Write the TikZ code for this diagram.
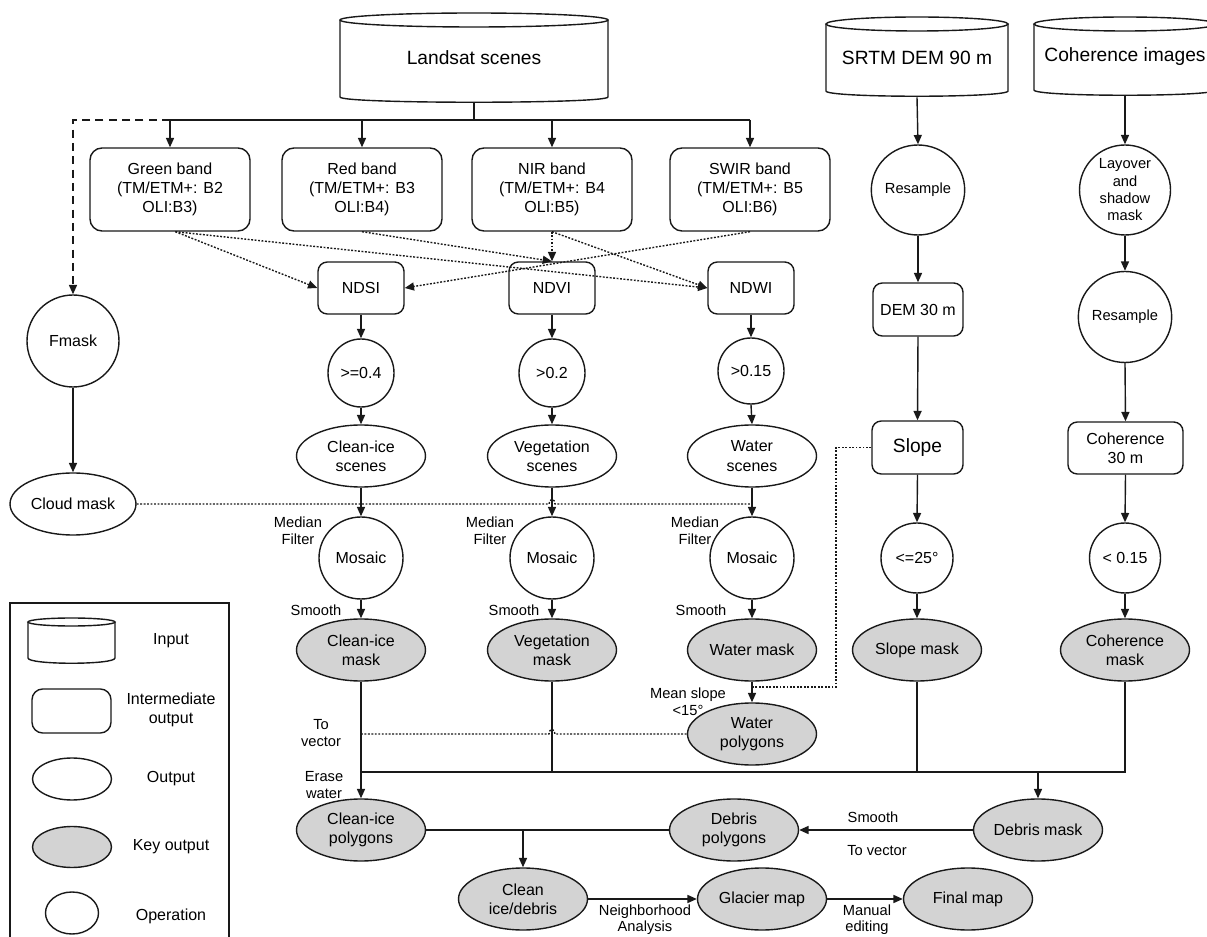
\documentclass[tikz,border=0pt]{standalone}
\usepackage{fontspec}
\setmainfont{Liberation Sans}
\usetikzlibrary{arrows.meta,shapes.geometric,calc}
\definecolor{keygray}{RGB}{211,211,211}
\def\pxu{0.75pt}
\newcommand\drawcyl[5]{%
  \pgfmathsetmacro\cxm{(#1+#2)/2}%
  \pgfmathsetmacro\crx{(#2-#1)/2}%
  \pgfmathsetmacro\cyt{#3+#5}%
  \draw[ln,fill=white] (#1,\cyt) -- (#1,#4-5) .. controls (#1,#4+2) and (#2,#4+2) .. (#2,#4-5) -- (#2,\cyt);
  \draw[ln] (\cxm,\cyt) ellipse [x radius=\crx*\pxu, y radius=#5*\pxu];}
\begin{document}
\begin{tikzpicture}[x=0.75pt,y=-0.75pt,
  every node/.style={font=\fontsize{12}{14.5}\selectfont, align=center, inner sep=0pt},
  ln/.style={line width=1.05pt, draw=black!90},
  arr/.style={ln, -{Triangle[length=7pt,width=6pt]}},
  dotarr/.style={arr, dash pattern=on 1.4pt off 1.2pt},
  dotln/.style={ln, dash pattern=on 1.4pt off 1.2pt},
  dasharr/.style={arr, dash pattern=on 6pt off 4pt},
  bandbox/.style={ln, rectangle, rounded corners=9pt, minimum width=160*\pxu, minimum height=83*\pxu},
  idxbox/.style={ln, rectangle, rounded corners=7pt, minimum width=86*\pxu, minimum height=52*\pxu},
  oval/.style={ln, ellipse, minimum width=129*\pxu, minimum height=62*\pxu},
  keyoval/.style={oval, fill=keygray},
  op/.style={ln, ellipse},
  lbl/.style={font=\fontsize{11}{13}\selectfont},
  cyltext/.style={font=\fontsize{14.4}{17}\selectfont, minimum height=78*\pxu},
]
\useasboundingbox (0,0) rectangle (1207,937);

% ---- inputs (cylinders)
\drawcyl{340}{608}{13}{102}{7}
\drawcyl{826}{1008}{17}{96}{7}
\drawcyl{1034}{1216}{17}{95}{7}
\node[cyltext, minimum width=268*\pxu, minimum height=89*\pxu] (landsat) at (474,58) {Landsat scenes};
\node[cyltext, minimum width=182*\pxu] (srtm) at (917,58) {SRTM DEM 90 m};
\node[cyltext, minimum width=182*\pxu] (cohimg) at (1125,57) {Coherence images};

% ---- bands
\node[bandbox] (green) at (170,189.5) {Green band\\(TM/ETM+: B2\\OLI:B3)};
\node[bandbox] (red) at (362,189.5) {Red band\\(TM/ETM+: B3\\OLI:B4)};
\node[bandbox] (nir) at (552,189.5) {NIR band\\(TM/ETM+: B4\\OLI:B5)};
\node[bandbox] (swir) at (750,189.5) {SWIR band\\(TM/ETM+: B5\\OLI:B6)};

% ---- indices
\node[idxbox] (ndsi) at (361,288) {NDSI};
\node[idxbox] (ndvi) at (552,288) {NDVI};
\node[idxbox] (ndwi) at (751,288) {NDWI};

% ---- thresholds
\node[op, minimum width=66*\pxu, minimum height=68*\pxu] (t1) at (361,373) {>=0.4};
\node[op, minimum width=66*\pxu, minimum height=68*\pxu] (t2) at (552,373) {>0.2};
\node[op, minimum width=66*\pxu, minimum height=66*\pxu] (t3) at (751,371) {>0.15};

% ---- scenes
\node[oval] (s1) at (361,456) {Clean-ice\\scenes};
\node[oval] (s2) at (552,456) {Vegetation\\scenes};
\node[oval] (s3) at (752,456) {Water\\scenes};

% ---- mosaics
\node[op, minimum width=84*\pxu, minimum height=82*\pxu] (m1) at (361,558) {Mosaic};
\node[op, minimum width=84*\pxu, minimum height=82*\pxu] (m2) at (552,558) {Mosaic};
\node[op, minimum width=84*\pxu, minimum height=82*\pxu] (m3) at (752,558) {Mosaic};

% ---- masks
\node[keyoval] (k1) at (361,650) {Clean-ice\\mask};
\node[keyoval] (k2) at (552,650) {Vegetation\\mask};
\node[keyoval] (k3) at (752,650) {Water mask};
\node[keyoval] (k4) at (917,650) {Slope mask};
\node[keyoval] (k5) at (1125,650) {Coherence\\mask};
\node[keyoval] (wpoly) at (752,734) {Water\\polygons};

% ---- polygons & maps
\node[keyoval] (cip) at (361,830) {Clean-ice\\polygons};
\node[keyoval] (dpoly) at (734,830) {Debris\\polygons};
\node[keyoval] (dmask) at (1038,830) {Debris mask};
\node[keyoval] (cid) at (523,899) {Clean\\ice/debris};
\node[keyoval] (gmap) at (762,899) {Glacier map};
\node[keyoval] (fmap) at (968,899) {Final map};

% ---- SRTM column
\node[op, minimum width=90*\pxu, minimum height=90*\pxu, font=\fontsize{11}{13}\selectfont] (res1) at (918,190) {Resample};
\node[ln, rectangle, rounded corners=7pt, minimum width=90*\pxu, minimum height=53*\pxu] (dem30) at (918,309.5) {DEM 30 m};
\node[ln, rectangle, rounded corners=7pt, minimum width=91*\pxu, minimum height=53*\pxu, font=\fontsize{14.4}{17}\selectfont] (slope) at (917.5,447.5) {Slope};
\node[op, minimum width=72*\pxu, minimum height=70*\pxu] (le25) at (917,558) {<=25°};

% ---- Coherence column
\node[op, minimum width=91*\pxu, minimum height=90*\pxu, inner sep=-4pt, font=\fontsize{11}{13}\selectfont] (layover) at (1125,190) {Layover\\and\\shadow\\mask};
\node[op, minimum width=90*\pxu, minimum height=91*\pxu, font=\fontsize{11}{13}\selectfont] (res2) at (1125,317) {Resample};
\node[ln, rectangle, rounded corners=7pt, minimum width=115*\pxu, minimum height=52*\pxu] (coh30) at (1125.5,448) {Coherence\\30 m};
\node[op, minimum width=71*\pxu, minimum height=70*\pxu] (lt015) at (1125,558) {< 0.15};

% ---- Fmask
\node[op, minimum width=92*\pxu, minimum height=92*\pxu] (fmask) at (73,341) {Fmask};
\node[oval, minimum width=126*\pxu] (cloud) at (73,504) {Cloud mask};

% ---- connectors: top
\coordinate (bT) at (474,120);
\coordinate (bG) at (170,120);
\coordinate (bR) at (362,120);
\coordinate (bN) at (552,120);
\coordinate (bS) at (750,120);
\draw[ln] (landsat.south) -- (bT);
\draw[ln] (bG) -- (bS);
\draw[arr] (bG) -- (green.north);
\draw[arr] (bR) -- (red.north);
\draw[arr] (bN) -- (nir.north);
\draw[arr] (bS) -- (swir.north);
\draw[dasharr] (bG) -| (fmask.north);
\draw[arr] (fmask.south) -- (cloud.north);

% ---- dotted band -> index
\draw[dotarr] ([xshift=4pt]green.south) -- (ndsi.west);
\draw[dotarr] ([xshift=4pt]green.south) -- (ndwi.west);
\draw[dotarr] (red.south) -- (ndvi.north);
\draw[dotarr] (nir.south) -- (ndvi.north);
\draw[dotarr] (nir.south) -- (ndwi.west);
\draw[dotarr] (swir.south) -- (ndsi.east);

% ---- columns
\draw[arr] (ndsi.south) -- (t1.north);
\draw[arr] (t1.south) -- (s1.north);
\draw[arr] (s1.south) -- (m1.north);
\draw[arr] (m1.south) -- (k1.north);
\draw[arr] (ndvi.south) -- (t2.north);
\draw[arr] (t2.south) -- (s2.north);
\draw[arr] (s2.south) -- (m2.north);
\draw[arr] (m2.south) -- (k2.north);
\draw[arr] (ndwi.south) -- (t3.north);
\draw[arr] (t3.south) -- (s3.north);
\draw[arr] (s3.south) -- (m3.north);
\draw[arr] (m3.south) -- (k3.north);
\draw[arr] (k3.south) -- (wpoly.north);

\draw[arr] (srtm.south) -- (res1.north);
\draw[arr] (res1.south) -- (dem30.north);
\draw[arr] (dem30.south) -- (slope.north);
\draw[arr] (slope.south) -- (le25.north);
\draw[arr] (le25.south) -- (k4.north);

\draw[arr] (cohimg.south) -- (layover.north);
\draw[arr] (layover.south) -- (res2.north);
\draw[arr] (res2.south) -- (coh30.north);
\draw[arr] (coh30.south) -- (lt015.north);
\draw[arr] (lt015.south) -- (k5.north);

% ---- cloud mask dotted
\coordinate (cj) at (752,504);
\draw[dotln] (cloud.east) -- (549,504) .. controls (549,498) and (555,498) .. (555,504) -- (cj);

% ---- slope dotted to water
\coordinate (sl1) at (836,687);
\coordinate (wj) at (752,687);
\draw[dotln] (slope.west) -| (sl1) -- (wj);

% ---- to vector dotted
\coordinate (tvj) at (361,734);
\draw[dotln] (tvj) -- (549,734) .. controls (549,728) and (555,728) .. (555,734) -- (wpoly.west);

% ---- lower bus
\coordinate (b2L) at (361,772);
\coordinate (b2V) at (552,772);
\coordinate (b2S) at (917,772);
\coordinate (b2D) at (1038,772);
\coordinate (b2C) at (1125,772);
\draw[arr] (k1.south) -- (cip.north);
\draw[ln] (b2L) -- (b2D);
\draw[ln] (k2.south) -- (b2V);
\draw[ln] (k4.south) -- (b2S);
\draw[ln] (k5.south) -- (b2C) -- (b2D);
\draw[arr] (b2D) -- (dmask.north);
\draw[arr] (dmask.west) -- (dpoly.east);
\coordinate (cb) at (523,830);
\draw[ln] (cip.east) -- (dpoly.west);
\draw[arr] (cb) -- (cid.north);
\draw[arr] (cid.east) -- (gmap.west);
\draw[arr] (gmap.east) -- (fmap.west);

% ---- labels
\node[lbl] (mf1) at (298,531) {Median\\Filter};
\node[lbl] (mf2) at (490,531) {Median\\Filter};
\node[lbl] (mf3) at (695,531) {Median\\Filter};
\node[lbl] (sm1) at (316,610) {Smooth};
\node[lbl] (sm2) at (514,610) {Smooth};
\node[lbl] (sm3) at (701,610) {Smooth};
\node[lbl] (msl) at (688,702) {Mean slope\\<15°};
\node[lbl] (tv1) at (321,733) {To\\vector};
\node[lbl] (ew) at (324,785) {Erase\\water};
\node[lbl] (sm4) at (873,817) {Smooth};
\node[lbl] (tv2) at (877,851) {To vector};
\node[lbl, font=\fontsize{11}{12}\selectfont] (nba) at (645,920) {Neighborhood\\Analysis};
\node[lbl, font=\fontsize{11}{12}\selectfont] (med) at (867,920) {Manual\\editing};

% ---- legend
\draw[ln] (10,603) rectangle (229,960);
\drawcyl{28}{115}{618}{663}{4}
\node[ln, rectangle, rounded corners=8pt, minimum width=79*\pxu, minimum height=44*\pxu] (lgbox) at (71.5,711) {};
\node[ln, ellipse, minimum width=79*\pxu, minimum height=42*\pxu] (lgout) at (72,779) {};
\node[ln, ellipse, fill=keygray, minimum width=79*\pxu, minimum height=41*\pxu] (lgkey) at (72,847) {};
\node[ln, ellipse, minimum width=53*\pxu, minimum height=42*\pxu] (lgop) at (72,913) {};
\node (lgt1) at (171,641) {Input};
\node (lgt2) at (171,710) {Intermediate\\output};
\node (lgt3) at (171,779) {Output};
\node (lgt4) at (171,847) {Key output};
\node (lgt5) at (171,916) {Operation};
\end{tikzpicture}
\end{document}
